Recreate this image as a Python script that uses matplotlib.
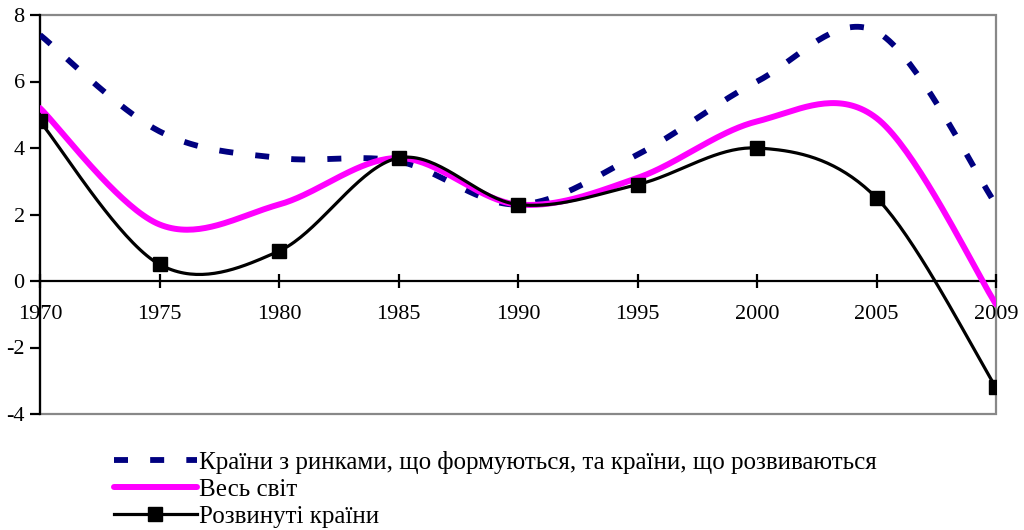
import numpy as np
import matplotlib
matplotlib.use("Agg")
import matplotlib.pyplot as plt
from matplotlib.patches import Rectangle

years = ["1970", "1975", "1980", "1985", "1990", "1995", "2000", "2005", "2009"]
emerging = [7.4, 4.5, 3.7, 3.6, 2.3, 3.8, 6.0, 7.5, 2.3]
world = [5.2, 1.7, 2.3, 3.7, 2.3, 3.1, 4.8, 4.9, -0.7]
developed = [4.8, 0.5, 0.9, 3.7, 2.3, 2.9, 4.0, 2.5, -3.2]

labels = ["Країни з ринками, що формуються, та країни, що розвиваються",
          "Весь світ",
          "Розвинуті країни"]

plt.rcParams['font.family'] = ['Liberation Serif', 'DejaVu Serif']


def smooth(xs, ys, n=40):
    """Excel-style smoothed line (cubic Bezier through the points)."""
    P = np.column_stack([xs, ys]).astype(float)
    m = len(P)
    out = []
    for i in range(m - 1):
        p0 = P[i - 1] if i > 0 else P[i]
        p1 = P[i]
        p2 = P[i + 1]
        p3 = P[i + 2] if i + 2 < m else P[i + 1]
        c1 = p1 + (p2 - p0) / 6.0
        c2 = p2 - (p3 - p1) / 6.0
        t = np.linspace(0, 1, n)[:, None]
        seg = ((1 - t) ** 3) * p1 + 3 * ((1 - t) ** 2) * t * c1 + 3 * (1 - t) * t ** 2 * c2 + t ** 3 * p2
        out.append(seg if i == 0 else seg[1:])
    arr = np.vstack(out)
    return arr[:, 0], arr[:, 1]


fig = plt.figure(figsize=(10.24, 5.30), dpi=100)
ax = fig.add_axes([40 / 1024, 1 - 414 / 530, 956 / 1024, 399 / 530])

x = np.arange(len(years))

sx, sy = smooth(x, emerging)
l1, = ax.plot(sx, sy, color='#000080', lw=4.2, dashes=(2.4, 3.8), solid_capstyle='butt',
              dash_capstyle='butt', label=labels[0], zorder=3)
sx, sy = smooth(x, world)
l2, = ax.plot(sx, sy, color='#FF00FF', lw=4.3, label=labels[1], zorder=4,
              solid_capstyle='round')
sx, sy = smooth(x, developed)
ax.plot(sx, sy, color='black', lw=2.3, zorder=5)
ax.plot(x, developed, linestyle='none', marker='s', markersize=10, color='black', zorder=6)
l3, = ax.plot([], [], color='black', lw=2.3, marker='s', markersize=10, label=labels[2])

ax.set_xlim(0, len(years) - 1)
ax.set_ylim(-4, 8)
ax.set_yticks(np.arange(-4, 9, 2))
ax.set_yticklabels([str(v) for v in range(-4, 9, 2)])
ax.set_xticks(x)
ax.set_xticklabels(years)

for s in ['top', 'right']:
    ax.spines[s].set_visible(False)
ax.spines['bottom'].set_position(('data', 0))
ax.spines['bottom'].set_linewidth(1.6)
ax.spines['left'].set_linewidth(1.6)
ax.spines['bottom'].set_zorder(2)
ax.tick_params(axis='x', direction='inout', length=10, width=1.6, labelsize=16, pad=12)
ax.tick_params(axis='y', direction='out', length=7, width=1.6, labelsize=16, pad=4)

ax.add_patch(Rectangle((0, 0), 1, 1, transform=ax.transAxes, fill=False,
                       edgecolor='#888888', lw=1.6, zorder=1, clip_on=False))

fig.legend(handles=[l1, l2, l3], loc='upper left', bbox_to_anchor=(114 / 1024, 1 - 451 / 530),
           frameon=False, fontsize=18, handlelength=3.3, handletextpad=0.1,
           labelspacing=0.17, borderpad=0, borderaxespad=0)

fig.savefig('out.png', dpi=100)
